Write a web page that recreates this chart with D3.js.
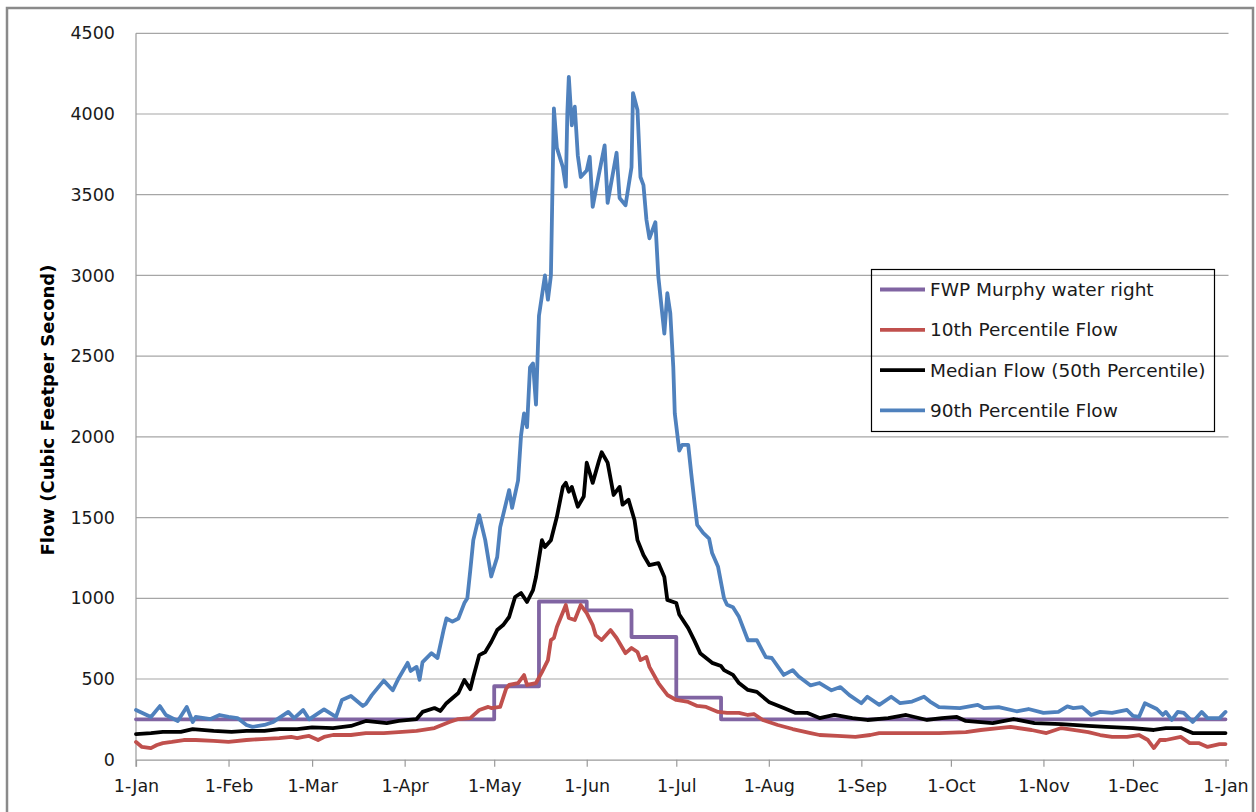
<!DOCTYPE html>
<html>
<head>
<meta charset="utf-8">
<script src="https://cdn.jsdelivr.net/npm/d3@7"></script>
<style>
  html, body { margin: 0; padding: 0; background: #fff; }
  svg { display: block; font-family: "DejaVu Sans", sans-serif; }
</style>
</head>
<body>
<svg id="chart" width="1256" height="812"></svg>
<script>
// ---- Data (day of year from 1-Jan, flow in cfs) ----
const seriesNames = ["FWP Murphy water right", "10th Percentile Flow", "Median Flow (50th Percentile)", "90th Percentile Flow"];
const seriesColors = ["#8064A2", "#C0504D", "#000000", "#4F81BD"];

const waterRightDays = [0, 120, 135, 151, 166, 181, 196, 365];
const waterRightVals = [250, 455, 980, 925, 760, 385, 250, 250];

const p10Days = [0,2,5,7,9,12,16,20,26,31,37,42,48,52,54,56,58,61,63,66,72,77,83,88,94,100,105,108,112,115,118,119,122,124,125,128,130,131,134,136,138,139,140,141,144,145,147,149,151,153,154,156,159,161,164,166,168,169,171,172,175,178,181,185,188,191,195,198,202,205,207,210,215,220,226,229,235,241,246,249,256,263,269,278,283,289,293,300,305,310,314,319,323,327,332,336,339,341,343,345,350,353,356,359,363,365];
const p10Vals = [110,79,72,91,103,110,122,122,116,110,122,128,134,141,134,141,147,122,141,153,153,165,165,171,178,196,234,252,258,308,327,320,327,440,463,475,524,463,475,543,617,741,754,822,958,878,865,958,908,834,772,741,803,754,660,692,667,617,636,575,475,401,370,358,333,327,296,290,290,277,283,246,215,190,165,153,147,141,153,165,165,165,165,171,184,196,203,184,165,196,184,171,153,141,141,153,122,72,122,122,141,103,103,79,97,97];

const medianDays = [0,5,9,15,19,26,32,37,43,48,54,59,66,72,77,84,88,94,96,100,102,104,108,110,112,113,115,117,119,121,123,125,127,129,131,133,134,136,137,139,141,143,144,145,146,148,150,151,153,155,156,158,160,162,163,165,167,168,170,172,175,177,178,181,182,185,187,189,191,193,196,197,200,202,205,208,212,217,221,225,229,234,240,245,252,258,265,270,275,278,287,294,301,310,319,325,334,341,345,350,354,360,365];
const medianVals = [159,165,172,172,190,178,172,178,178,190,190,200,196,209,240,227,240,252,296,320,302,350,413,494,437,512,648,667,729,803,834,884,1008,1033,977,1050,1132,1360,1318,1360,1505,1690,1715,1660,1690,1567,1630,1840,1715,1845,1905,1840,1640,1690,1580,1610,1485,1360,1268,1205,1218,1132,990,971,900,815,741,660,630,600,580,555,525,475,432,420,358,320,290,290,258,277,258,246,258,277,246,258,265,240,227,252,227,221,209,203,196,184,196,196,165,165,165];

const p90Days = [0,5,8,10,14,17,19,20,25,28,31,34,37,39,43,46,51,53,56,58,63,67,69,72,76,77,79,83,86,88,91,92,94,95,96,99,101,103,104,106,108,110,111,112,113,115,117,119,121,122,125,126,128,129,130,131,132,133,134,135,137,138,139,140,141,143,144,144.5,145,146,147,148,149,151,152,153,155,157,158,161,162,164,166,166.5,168,169,170,171,172,174,175,177,178,179,180,180.5,182,183,185,186,187,188,190,192,193,195,197,198,200,202,205,208,211,213,217,220,222,226,229,233,236,239,243,245,249,253,256,260,264,266,269,276,282,284,289,295,299,304,309,312,314,317,320,323,327,332,334,336,338,342,344,345,347,349,351,354,357,359,363,365];
const p90Vals = [308,265,332,277,240,327,234,265,252,277,265,258,215,203,215,234,296,258,308,250,312,265,370,395,333,345,400,490,430,505,600,550,575,495,605,660,630,800,875,855,875,970,1000,1175,1360,1515,1360,1135,1255,1440,1670,1560,1730,2010,2145,2060,2430,2455,2200,2750,3000,2850,3000,4035,3790,3670,3550,4005,4230,3930,4045,3745,3610,3650,3735,3425,3620,3805,3450,3760,3480,3435,3670,4130,4025,3610,3560,3345,3230,3330,2990,2640,2890,2765,2430,2145,1915,1950,1950,1775,1610,1455,1405,1370,1280,1195,1000,960,945,885,740,740,635,630,525,555,515,460,475,430,450,400,350,390,340,390,350,360,390,360,326,320,340,320,326,300,314,290,296,330,320,326,277,296,290,308,271,265,350,314,277,296,246,296,290,234,296,258,258,296];

const yTicks = [0, 500, 1000, 1500, 2000, 2500, 3000, 3500, 4000, 4500];
const yTitle = "Flow (Cubic Feetper Second)";

// ---- Layout ----
const svg = d3.select("#chart");
const pL = 136, pR = 1228.5, pT = 33.3, pB = 759.7;
const start = new Date(2001, 0, 1);
const dayToDate = d => new Date(start.getTime() + d * 86400000);

const x = d3.scaleTime().domain([start, dayToDate(366)]).range([pL, pR]);
const y = d3.scaleLinear().domain([0, 4500]).range([pB, pT]);

// outer chart frame
svg.append("rect").attr("x", 7).attr("y", 8).attr("width", 1246).attr("height", 830)
  .attr("fill", "none").attr("stroke", "#8a8a8a").attr("stroke-width", 2.5);

// gridlines
svg.append("g").selectAll("line").data(yTicks.filter(v => v > 0)).join("line")
  .attr("x1", pL).attr("x2", pR)
  .attr("y1", d => y(d)).attr("y2", d => y(d))
  .attr("stroke", "#a6a6a6").attr("stroke-width", 1.2);

// y axis (line + labels)
const yAxis = svg.append("g").attr("transform", `translate(${pL},0)`)
  .call(d3.axisLeft(y).tickValues(yTicks).tickSize(0).tickPadding(21).tickFormat(d3.format("d")));
yAxis.select(".domain").attr("stroke", "#9a9a9a").attr("stroke-width", 1.2)
  .attr("d", `M0,${pT}V${pB + 7}`);
yAxis.selectAll("text").attr("font-size", "17.5px").attr("fill", "#1a1a1a")
  .attr("font-family", "DejaVu Sans, sans-serif");

// x axis
const monthTicks = d3.timeMonth.range(start, dayToDate(366));
const xAxis = svg.append("g").attr("transform", `translate(0,${pB})`)
  .call(d3.axisBottom(x).tickValues(monthTicks).tickSize(7).tickSizeOuter(0).tickPadding(13)
    .tickFormat(d3.timeFormat("%-d-%b")));
xAxis.select(".domain").attr("stroke", "#9a9a9a").attr("stroke-width", 1.2);
xAxis.selectAll(".tick line").attr("stroke", "#9a9a9a").attr("stroke-width", 1.2);
xAxis.selectAll("text").attr("font-size", "17.5px").attr("fill", "#1a1a1a")
  .attr("font-family", "DejaVu Sans, sans-serif");

// y title
svg.append("text")
  .attr("transform", `translate(54,410) rotate(-90)`)
  .attr("text-anchor", "middle")
  .attr("font-size", "18px").attr("font-weight", "bold").attr("fill", "#000")
  .text(yTitle);

// series lines
const mk = (days, vals) => days.map((d, i) => ({ date: dayToDate(d), v: vals[i] }));
const line = d3.line().x(d => x(d.date)).y(d => y(d.v));
const stepLine = d3.line().x(d => x(d.date)).y(d => y(d.v)).curve(d3.curveStepAfter);

const series = [
  { data: mk(waterRightDays, waterRightVals), gen: stepLine },
  { data: mk(p10Days, p10Vals), gen: line },
  { data: mk(medianDays, medianVals), gen: line },
  { data: mk(p90Days, p90Vals), gen: line }
];
svg.append("g").selectAll("path").data(series).join("path")
  .attr("d", d => d.gen(d.data))
  .attr("fill", "none")
  .attr("stroke", (d, i) => seriesColors[i])
  .attr("stroke-width", 3.8)
  .attr("stroke-linejoin", "round")
  .attr("stroke-linecap", "round");

// legend
const lg = svg.append("g");
lg.append("rect").attr("x", 871.5).attr("y", 269.5).attr("width", 343).attr("height", 162)
  .attr("fill", "none").attr("stroke", "#000").attr("stroke-width", 1.2);
const rows = lg.selectAll("g.row").data(seriesNames).join("g")
  .attr("transform", (d, i) => `translate(0,${289.5 + i * 40.3})`);
rows.append("line").attr("x1", 880).attr("x2", 925).attr("y1", 0).attr("y2", 0)
  .attr("stroke", (d, i) => seriesColors[i]).attr("stroke-width", 3.8);
rows.append("text").attr("x", 930).attr("y", 0).attr("dy", "0.35em")
  .attr("font-size", "18.5px").attr("fill", "#1a1a1a").text(d => d);
</script>
</body>
</html>
